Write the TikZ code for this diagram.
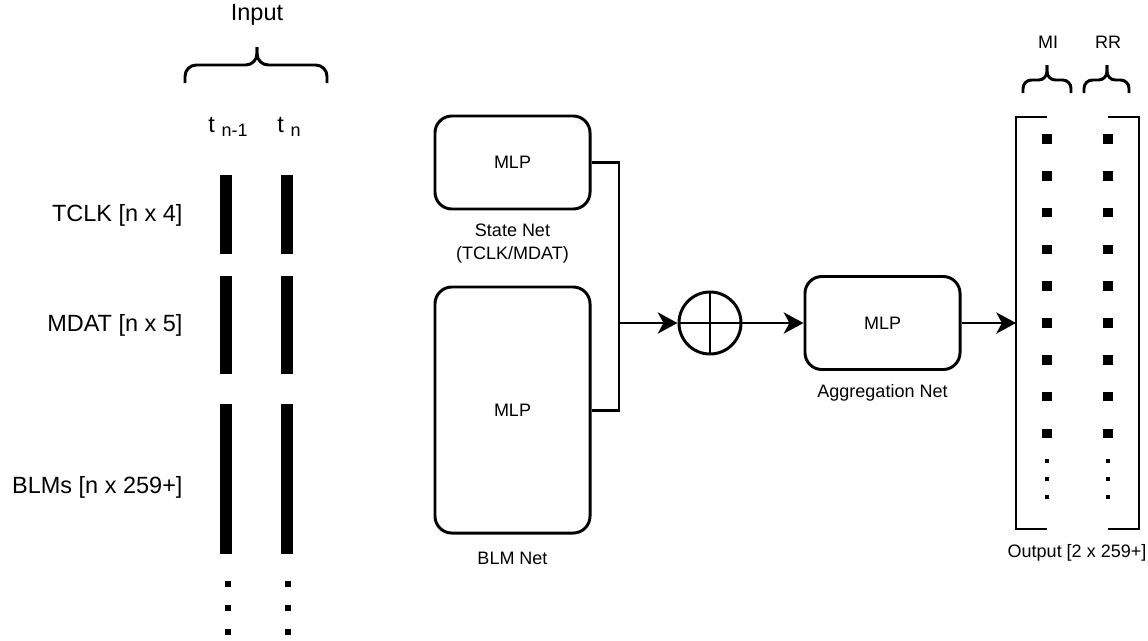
\documentclass[tikz,border=0pt]{standalone}
\usepackage{fontspec}
\setmainfont{Liberation Sans}
\usetikzlibrary{arrows.meta, positioning}

\newcommand{\bigtext}{\fontsize{16.7}{20}\selectfont}
\newcommand{\smalltext}{\fontsize{12.8}{16.4}\selectfont}

\begin{document}
\begin{tikzpicture}[x=0.025cm, y=-0.025cm, line width=2.1pt,
    >={Stealth[length=14pt, width=15pt, inset=4pt]},
    netbox/.style={draw, rounded corners=12pt, minimum width=3.875cm, font=\smalltext},
    bar/.style={fill=black, minimum width=0.3cm, inner sep=0pt},
    bigdot/.style={fill=black, minimum size=0.15cm, inner sep=0pt},
    cell/.style={fill=black, minimum size=0.24cm, inner sep=0pt},
    tinydot/.style={fill=black, minimum size=0.1cm, inner sep=0pt},
    caption/.style={font=\smalltext, align=center, inner sep=0pt},
    rowname/.style={font=\bigtext, anchor=east, inner sep=0pt}]
    \useasboundingbox (0,0) rectangle (1148,640);

    % Eingabe: Klammer und Zeitschritte
    \node[font=\bigtext] (input) at (257,15) {Input};
    \draw[rounded corners=8pt] (185,83) |- (257,65) -- (257,47);
    \draw[rounded corners=8pt] (327,83) |- (257,65) -- (257,47);
    \node[font=\bigtext, anchor=base] (tprev) at (228,132) {t {\smalltext\raisebox{-3.5pt}{n-1}}};
    \node[font=\bigtext, anchor=base] (tcur) at (289,132) {t {\smalltext\raisebox{-3.5pt}{n}}};

    % Zeilen der Eingabe
    \node[rowname] (tclk) at (184,215) {TCLK [n x 4]};
    \node[rowname] (mdat) at (184,325) {MDAT [n x 5]};
    \node[rowname] (blms) at (184,487) {BLMs [n x 259+]};

    \node[bar, minimum height=1.975cm] (tclkA) at (226,214.5) {};
    \node[bar, minimum height=1.975cm] (tclkB) at (287,214.5) {};
    \node[bar, minimum height=2.45cm] (mdatA) at (226,325) {};
    \node[bar, minimum height=2.45cm] (mdatB) at (287,325) {};
    \node[bar, minimum height=3.75cm] (blmsA) at (226,479) {};
    \node[bar, minimum height=3.75cm] (blmsB) at (287,479) {};
    \foreach \y in {584,608,632} {
        \node[bigdot] (dotA\y) at (228,\y) {};
        \node[bigdot] (dotB\y) at (288,\y) {};
    }

    % Netze
    \node[netbox, minimum height=2.325cm] (state) at (512.5,162.5) {MLP};
    \node[netbox, minimum height=6.15cm, below=1.875cm of state] (blm) {MLP};
    \node[caption, below=0.3cm of state] (statecap) {State Net\\(TCLK/MDAT)};
    \node[caption, below=0.4cm of blm] (blmcap) {BLM Net};

    \coordinate (join) at (619,323);
    \draw (state.east) -| (join) |- (blm.east);

    \node[draw, circle, minimum size=1.55cm, inner sep=0pt] (sum) at (710,323) {};
    \draw (sum.north) -- (sum.south);
    \draw (sum.west) -- (sum.east);

    \node[netbox, minimum height=2.325cm, right=1.525cm of sum] (agg) {MLP};
    \node[caption, below=0.3cm of agg] (aggcap) {Aggregation Net};

    % Pfeile
    \coordinate (outin) at (1016,323);
    \draw[->] (join) -- (sum);
    \draw[->] (sum) -- (agg);
    \draw[->] (agg) -- (outin);

    % Ausgabe
    \draw (1047,117) -- (1016,117) -- (1016,529) -- (1047,529);
    \draw (1108,117) -- (1139,117) -- (1139,529) -- (1108,529);
    \foreach \r in {0,...,8} {
        \node[cell] (mi\r) at (1047,139+36.8*\r) {};
        \node[cell] (rr\r) at (1108,139+36.8*\r) {};
    }
    \foreach \y in {461,479,497} {
        \node[tinydot] (mid\y) at (1047,\y) {};
        \node[tinydot] (rrd\y) at (1108,\y) {};
    }
    \node[caption] (outcap) at (1077,553) {Output [2 x 259+]};

    \draw[rounded corners=6pt] (1023,93) |- (1047,80) -- (1047,65);
    \draw[rounded corners=6pt] (1071,93) |- (1047,80) -- (1047,65);
    \draw[rounded corners=6pt] (1084,93) |- (1107,80) -- (1107,65);
    \draw[rounded corners=6pt] (1129,93) |- (1107,80) -- (1107,65);
    \node[font=\smalltext] (mi) at (1048,42) {MI};
    \node[font=\smalltext] (rr) at (1108,42) {RR};
\end{tikzpicture}
\end{document}
